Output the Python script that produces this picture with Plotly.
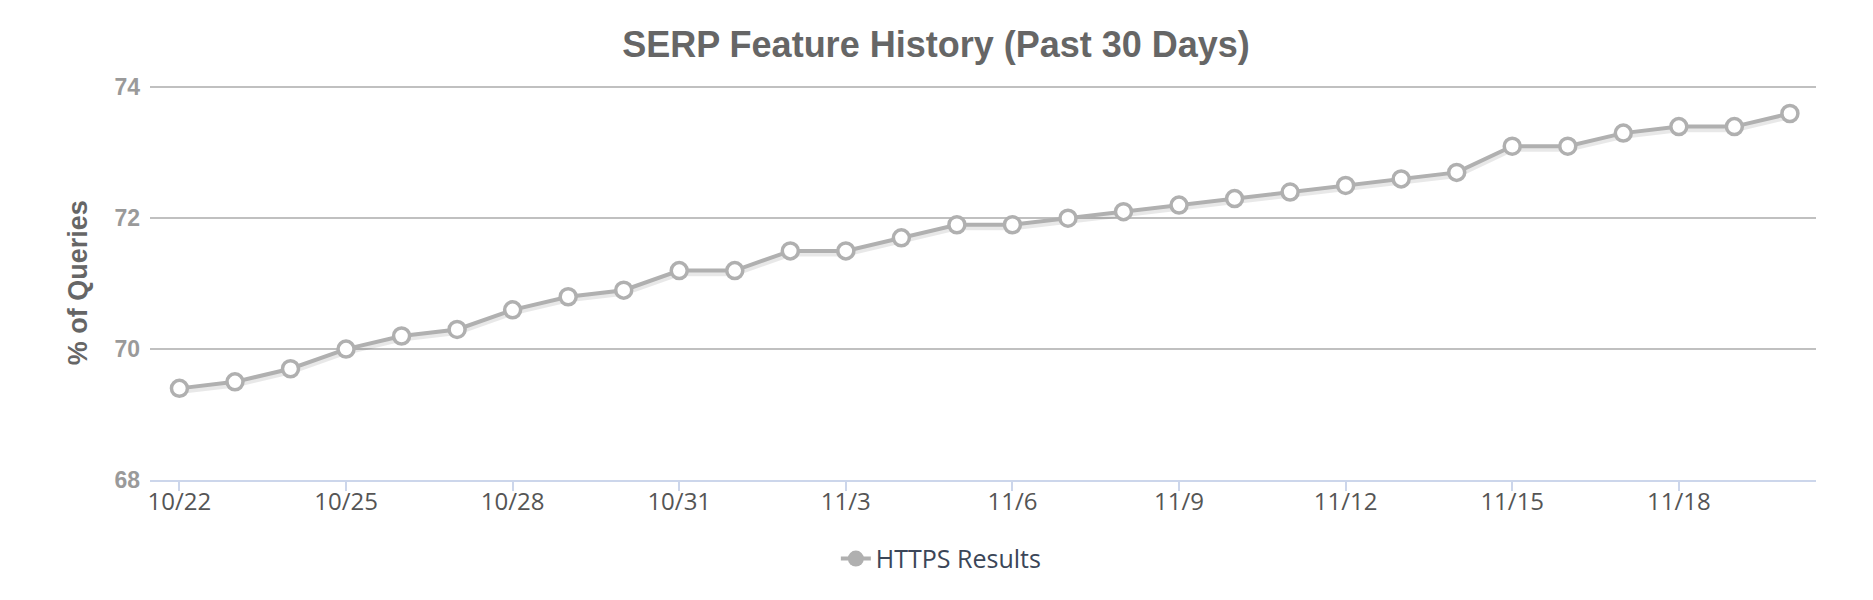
import plotly.graph_objects as go

# days shown on the x axis (30 days)
dates = [
    "10/22", "10/23", "10/24", "10/25", "10/26", "10/27", "10/28", "10/29",
    "10/30", "10/31", "11/1", "11/2", "11/3", "11/4", "11/5", "11/6",
    "11/7", "11/8", "11/9", "11/10", "11/11", "11/12", "11/13", "11/14",
    "11/15", "11/16", "11/17", "11/18", "11/19", "11/20",
]

# % of queries with HTTPS results
https_results = [
    69.4, 69.5, 69.7, 70.0, 70.2, 70.3, 70.6, 70.8,
    70.9, 71.2, 71.2, 71.5, 71.5, 71.7, 71.9, 71.9,
    72.0, 72.1, 72.2, 72.3, 72.4, 72.5, 72.6, 72.7,
    73.1, 73.1, 73.3, 73.4, 73.4, 73.6,
]

x_ticks = ["10/22", "10/25", "10/28", "10/31", "11/3", "11/6", "11/9", "11/12", "11/15", "11/18"]
y_ticks = [68, 70, 72, 74]

LINE_COLOR = "rgb(176, 176, 176)"

fig = go.Figure()

# soft shadow under the line, like the original chart
fig.add_trace(
    go.Scatter(
        x=dates,
        y=[v - 0.04 for v in https_results],
        mode="lines",
        line=dict(color="rgba(0,0,0,0.09)", width=6),
        hoverinfo="skip",
        showlegend=False,
    )
)

fig.add_trace(
    go.Scatter(
        x=dates,
        y=https_results,
        mode="lines+markers",
        name="HTTPS Results",
        line=dict(color=LINE_COLOR, width=4),
        marker=dict(size=16, color="white", line=dict(color=LINE_COLOR, width=3.5)),
        showlegend=False,
    )
)

# legend entry only (filled marker like in the original)
fig.add_trace(
    go.Scatter(
        x=[None],
        y=[None],
        mode="lines+markers",
        name="HTTPS Results",
        line=dict(color=LINE_COLOR, width=4),
        marker=dict(size=16, color=LINE_COLOR),
    )
)

fig.update_xaxes(
    type="category",
    categoryorder="array",
    categoryarray=dates,
    range=[-0.53, 29.47],
    tickmode="array",
    tickvals=x_ticks,
    ticktext=x_ticks,
    ticks="outside",
    ticklen=9,
    tickwidth=1.5,
    tickcolor="#ccd6eb",
    ticklabelstandoff=-10,
    showline=True,
    linecolor="#ccd6eb",
    linewidth=1.5,
    showgrid=False,
    zeroline=False,
    tickfont=dict(family="Open Sans", size=24, color="#555555"),
)

fig.update_yaxes(
    range=[68, 74.02],
    tickmode="array",
    tickvals=y_ticks,
    showgrid=True,
    gridcolor="#c0c0c0",
    gridwidth=1.5,
    zeroline=False,
    showline=False,
    ticklabelstandoff=9,
    tickfont=dict(family="Liberation Sans", size=23, color="#9a9a9a", weight="bold"),
)

fig.add_annotation(
    text="<b>% of Queries</b>",
    xref="paper",
    yref="paper",
    x=-0.043,
    y=0.5,
    xanchor="center",
    yanchor="middle",
    textangle=-90,
    showarrow=False,
    font=dict(family="Liberation Sans", size=27, color="#666666"),
)

# the page has an 8px body margin, so the figure is 8px smaller than the window
fig.update_layout(
    width=1865,
    height=592,
    paper_bgcolor="white",
    plot_bgcolor="white",
    margin=dict(l=142, r=57, t=78, b=120),
    title=dict(
        text="<b>SERP Feature History (Past 30 Days)</b>",
        x=0.4976,
        xref="container",
        y=1 - 36 / 592,
        yanchor="middle",
        font=dict(family="Liberation Sans", size=36, color="#666666"),
    ),
    legend=dict(
        orientation="h",
        x=0.475,
        xanchor="center",
        y=-0.2,
        yanchor="middle",
        font=dict(family="Open Sans", size=25, color="#3b4658"),
    ),
)

fig.write_html("out.html")
